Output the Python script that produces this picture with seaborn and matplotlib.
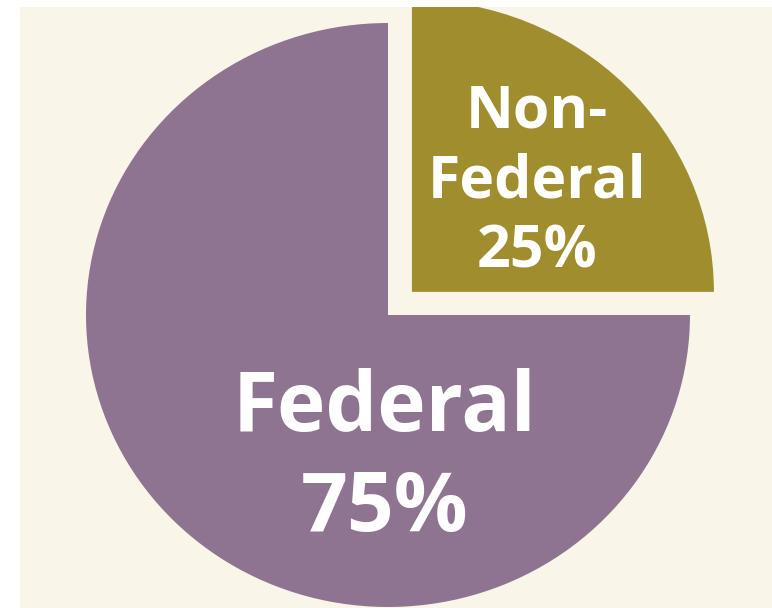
import matplotlib
matplotlib.use("Agg")
import matplotlib.pyplot as plt
import seaborn as sns

# data
categories = ["Non-Federal", "Federal"]
labels = ["Non-\nFederal", "Federal"]
shares = [25, 75]
explode = [0.112, 0.0]

sns.set_theme(style="white")
plt.rcParams['font.family'] = ['Open Sans', 'DejaVu Sans']

colors = sns.color_palette(["#a08d2d", "#8f7491"])
bg = "#f9f5e8"

fig = plt.figure(figsize=(7.72, 6.08), dpi=100)
fig.patch.set_facecolor("white")
ax = fig.add_axes([20 / 772, 0, 752 / 772, 601 / 608])
ax.set_facecolor(bg)

wedges, _ = ax.pie(shares, startangle=0, counterclock=True, colors=colors,
                   explode=explode, radius=1.0, frame=True,
                   wedgeprops=dict(linewidth=0))
for w in wedges:
    w.set_clip_on(True)
    w.set_clip_path(ax.patch)

# ellipse-ish like the original, not forced round
ax.set_aspect("auto")
ax.set_xlim(-368 / 302, 384 / 302)
ax.set_ylim(-293 / 292, 308 / 292)
ax.set_xticks([])
ax.set_yticks([])
for s in ax.spines.values():
    s.set_visible(False)

# labels
ax.text(0.493, 0.455, f"{labels[0]}\n{shares[0]}%", ha="center", va="center",
        color="white", fontsize=42.5, fontweight="bold", linespacing=1.24)
ax.text(-0.01, -0.495, f"{labels[1]}\n{shares[1]}%", ha="center", va="center",
        color="white", fontsize=59, fontweight="bold", linespacing=1.26)

fig.savefig("out.png", dpi=100, facecolor=fig.get_facecolor())
